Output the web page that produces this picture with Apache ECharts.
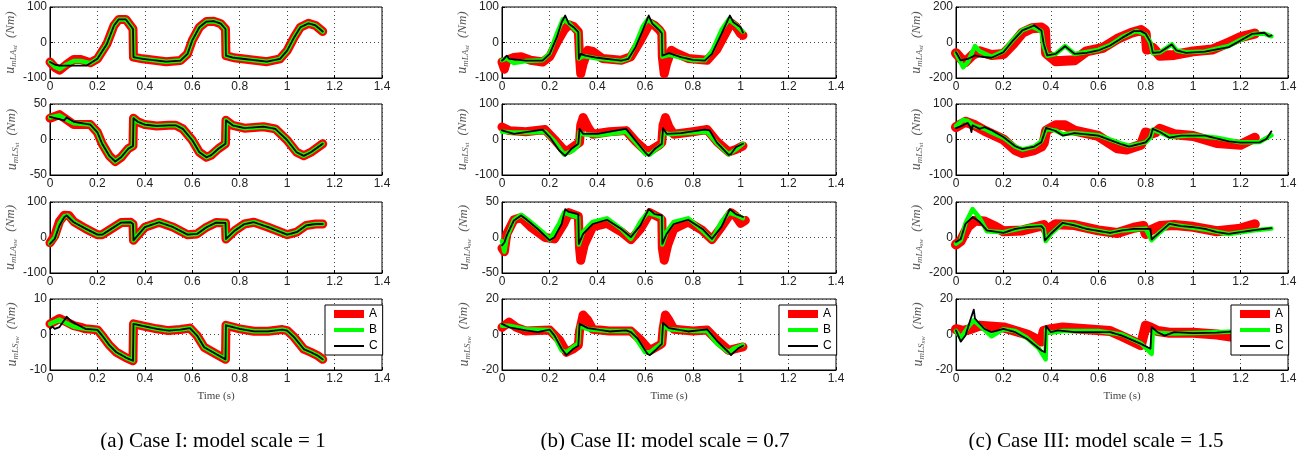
<!DOCTYPE html>
<html>
<head>
<meta charset="utf-8">
<script src="https://cdn.jsdelivr.net/npm/echarts@6/dist/echarts.min.js"></script>
<style>
  html, body { margin: 0; padding: 0; background: #fff; }
  #chart { width: 1304px; height: 450px; }
</style>
</head>
<body>
<div id="chart"></div>
<script>
// ---- Case I (model scale = 1) ----
const caseI_LAst_A = [[0,-55],[0.02,-70],[0.04,-78],[0.07,-62],[0.1,-48],[0.13,-48],[0.17,-57],[0.2,-46],[0.24,-4],[0.27,48],[0.29,65],[0.32,65],[0.35,38],[0.352,-41],[0.39,-46],[0.49,-54],[0.55,-51],[0.58,-32],[0.6,6],[0.63,43],[0.66,59],[0.69,60],[0.72,53],[0.74,38],[0.742,-37],[0.775,-43],[0.915,-54],[0.97,-46],[1.0,-23],[1.03,15],[1.056,43],[1.09,54],[1.12,48],[1.15,31]]
const caseI_LAst_B = [[0,-55],[0.02,-68],[0.04,-75],[0.07,-62],[0.1,-52],[0.13,-52],[0.17,-58],[0.2,-46],[0.24,-4],[0.27,48],[0.29,65],[0.32,65],[0.35,38],[0.352,-41],[0.39,-46],[0.49,-54],[0.55,-51],[0.58,-32],[0.6,6],[0.63,43],[0.66,59],[0.69,60],[0.72,53],[0.74,38],[0.742,-37],[0.775,-43],[0.915,-54],[0.97,-46],[1.0,-23],[1.03,15],[1.056,43],[1.09,54],[1.12,48],[1.15,31]]
const caseI_LAst_C = [[0,-55],[0.02,-62],[0.04,-65],[0.1,-65],[0.155,-65],[0.2,-46],[0.24,-4],[0.27,48],[0.29,65],[0.32,65],[0.35,38],[0.352,-41],[0.39,-46],[0.49,-54],[0.55,-51],[0.58,-32],[0.6,6],[0.63,43],[0.66,59],[0.69,60],[0.72,53],[0.74,38],[0.742,-37],[0.775,-43],[0.915,-54],[0.97,-46],[1.0,-23],[1.03,15],[1.056,43],[1.09,54],[1.12,48],[1.15,31]]

const caseI_LSst_A = [[0,30],[0.04,35],[0.07,28],[0.1,21],[0.17,21],[0.2,10],[0.22,-6],[0.25,-23],[0.275,-31],[0.3,-25],[0.33,-13],[0.35,-9],[0.352,30],[0.37,25],[0.4,21],[0.45,19],[0.5,20],[0.53,20],[0.56,15],[0.6,-1],[0.63,-18],[0.66,-25],[0.68,-22],[0.71,-13],[0.74,-6],[0.742,27],[0.77,20],[0.82,16],[0.9,18],[0.95,15],[1.0,-1],[1.04,-18],[1.07,-23],[1.1,-18],[1.15,-6]]
const caseI_LSst_B = [[0,31],[0.04,34],[0.07,28],[0.1,23],[0.17,21],[0.2,10],[0.22,-6],[0.25,-23],[0.275,-31],[0.3,-25],[0.33,-13],[0.35,-9],[0.352,30],[0.37,25],[0.4,21],[0.45,19],[0.5,20],[0.53,20],[0.56,15],[0.6,-1],[0.63,-18],[0.66,-25],[0.68,-22],[0.71,-13],[0.74,-6],[0.742,27],[0.77,20],[0.82,16],[0.9,18],[0.95,15],[1.0,-1],[1.04,-18],[1.07,-23],[1.1,-18],[1.15,-6]]
const caseI_LSst_C = [[0,32],[0.03,29.5],[0.06,27],[0.07,31],[0.1,25],[0.17,21],[0.2,10],[0.22,-6],[0.25,-23],[0.275,-31],[0.3,-25],[0.33,-13],[0.35,-9],[0.352,30],[0.37,25],[0.4,21],[0.45,19],[0.5,20],[0.53,20],[0.56,15],[0.6,-1],[0.63,-18],[0.66,-25],[0.68,-22],[0.71,-13],[0.74,-6],[0.742,27],[0.77,20],[0.82,16],[0.9,18],[0.95,15],[1.0,-1],[1.04,-18],[1.07,-23],[1.1,-18],[1.15,-6]]

const caseI_LAsw_A = [[0,-15],[0.02,5],[0.04,45],[0.06,63],[0.08,62],[0.1,45],[0.15,25],[0.2,8],[0.22,8],[0.26,25],[0.3,42],[0.34,43],[0.35,38],[0.352,-8],[0.37,6],[0.4,29],[0.46,43],[0.52,29],[0.58,8],[0.62,10],[0.66,29],[0.7,42],[0.74,41],[0.742,-4],[0.78,20],[0.82,38],[0.86,43],[0.92,29],[1.0,8],[1.04,15],[1.08,34],[1.12,38],[1.15,38]]
const caseI_LAsw_B = [[0,-16],[0.02,0],[0.04,40],[0.06,60],[0.075,62],[0.1,44],[0.15,25],[0.2,8],[0.22,8],[0.26,25],[0.3,42],[0.34,43],[0.35,38],[0.352,-8],[0.37,6],[0.4,29],[0.46,43],[0.52,29],[0.58,8],[0.62,10],[0.66,29],[0.7,42],[0.74,41],[0.742,-4],[0.78,20],[0.82,38],[0.86,43],[0.92,29],[1.0,8],[1.04,15],[1.08,34],[1.12,38],[1.15,38]]
const caseI_LAsw_C = [[0,-18],[0.02,-4],[0.04,34],[0.06,57],[0.07,62],[0.1,43],[0.15,25],[0.2,8],[0.22,8],[0.26,25],[0.3,42],[0.34,43],[0.35,38],[0.352,-8],[0.37,6],[0.4,29],[0.46,43],[0.52,29],[0.58,8],[0.62,10],[0.66,29],[0.7,42],[0.74,41],[0.742,-4],[0.78,20],[0.82,38],[0.86,43],[0.92,29],[1.0,8],[1.04,15],[1.08,34],[1.12,38],[1.15,38]]

const caseI_LSsw_A = [[0,3],[0.04,4.5],[0.07,3.5],[0.1,2.5],[0.13,2],[0.15,1.6],[0.2,1.3],[0.22,-0.3],[0.25,-3],[0.28,-5],[0.32,-6.5],[0.35,-7.4],[0.352,3],[0.4,2.3],[0.45,1.6],[0.5,1.1],[0.55,1.4],[0.59,1.8],[0.62,-0.3],[0.65,-3.6],[0.7,-5.5],[0.74,-7],[0.742,2.6],[0.8,1.6],[0.86,0.9],[0.92,0.9],[0.98,1.4],[1.0,1.1],[1.03,-0.8],[1.07,-4.1],[1.1,-5],[1.13,-6],[1.15,-7]]
const caseI_LSsw_B = [[0,3],[0.04,4.2],[0.07,3.2],[0.1,2.2],[0.13,1.8],[0.15,1.6],[0.2,1.3],[0.22,-0.3],[0.25,-3],[0.28,-5],[0.32,-6.5],[0.35,-7.4],[0.352,3],[0.4,2.3],[0.45,1.6],[0.5,1.1],[0.55,1.4],[0.59,1.8],[0.62,-0.3],[0.65,-3.6],[0.7,-5.5],[0.74,-7],[0.742,2.6],[0.8,1.6],[0.86,0.9],[0.92,0.9],[0.98,1.4],[1.0,1.1],[1.03,-0.8],[1.07,-4.1],[1.1,-5],[1.13,-6],[1.15,-7]]
const caseI_LSsw_C = [[0,1.6],[0.01,2.2],[0.02,1.6],[0.04,2.1],[0.06,4],[0.07,5],[0.09,3.7],[0.12,2.6],[0.15,1.6],[0.2,1.3],[0.22,-0.3],[0.25,-3],[0.28,-5],[0.32,-6.5],[0.35,-7.4],[0.352,3],[0.4,2.3],[0.45,1.6],[0.5,1.1],[0.55,1.4],[0.59,1.8],[0.62,-0.3],[0.65,-3.6],[0.7,-5.5],[0.74,-7],[0.742,2.6],[0.8,1.6],[0.86,0.9],[0.92,0.9],[0.98,1.4],[1.0,1.1],[1.03,-0.8],[1.07,-4.1],[1.1,-5],[1.13,-6],[1.15,-7]]

// ---- Case II (model scale = 0.7) ----
const caseII_LAst_A = [[0,-55],[0.01,-75],[0.02,-50],[0.05,-42],[0.08,-40],[0.12,-50],[0.17,-55],[0.2,-40],[0.23,0],[0.26,35],[0.28,50],[0.3,45],[0.32,30],[0.325,-40],[0.33,-88],[0.34,-60],[0.36,-22],[0.38,-25],[0.42,-45],[0.5,-50],[0.54,-40],[0.58,5],[0.62,55],[0.64,48],[0.66,35],[0.67,25],[0.672,-40],[0.68,-88],[0.69,-60],[0.71,-22],[0.73,-30],[0.78,-45],[0.86,-50],[0.9,-20],[0.94,30],[0.96,55],[0.98,45],[1.0,25],[1.01,20]]
const caseII_LAst_B = [[0,-50],[0.02,-45],[0.05,-58],[0.1,-52],[0.17,-50],[0.2,-30],[0.23,25],[0.255,65],[0.28,55],[0.3,40],[0.32,28],[0.322,-45],[0.34,-38],[0.4,-45],[0.5,-52],[0.53,-45],[0.56,-5],[0.59,45],[0.61,65],[0.64,50],[0.66,38],[0.67,30],[0.672,-40],[0.7,-35],[0.8,-50],[0.85,-50],[0.88,-25],[0.92,35],[0.95,65],[0.98,50],[1.01,30]]
const caseII_LAst_C = [[0,-51],[0.01,-45],[0.02,-37],[0.03,-46],[0.1,-51],[0.17,-51],[0.2,-32],[0.23,15],[0.25,57],[0.265,76],[0.28,53],[0.3,43],[0.32,29],[0.322,-46],[0.33,-32],[0.35,-37],[0.4,-43],[0.5,-51],[0.53,-46],[0.56,-13],[0.59,34],[0.615,76],[0.63,53],[0.66,34],[0.67,26],[0.672,-37],[0.7,-30],[0.75,-41],[0.8,-49],[0.85,-51],[0.88,-32],[0.92,24],[0.955,76],[0.97,57],[1.0,43],[1.01,28]]

const caseII_LSst_A = [[0,35],[0.03,25],[0.1,22],[0.18,28],[0.22,0],[0.26,-30],[0.28,-30],[0.31,-15],[0.325,-8],[0.33,40],[0.34,62],[0.36,35],[0.38,15],[0.45,22],[0.52,25],[0.56,-5],[0.6,-30],[0.62,-32],[0.66,-15],[0.67,-8],[0.675,40],[0.685,62],[0.7,35],[0.72,15],[0.8,22],[0.86,28],[0.9,-5],[0.95,-35],[0.98,-28],[1.01,-18]]
const caseII_LSst_B = [[0,22],[0.05,20],[0.12,20],[0.18,22],[0.22,-5],[0.26,-42],[0.3,-30],[0.32,-15],[0.325,22],[0.34,15],[0.4,12],[0.5,20],[0.52,22],[0.56,-8],[0.6,-40],[0.62,-42],[0.65,-25],[0.67,-15],[0.675,20],[0.7,15],[0.8,20],[0.86,22],[0.9,-10],[0.95,-42],[0.98,-28],[1.01,-12]]
const caseII_LSst_C = [[0,26],[0.05,16],[0.1,21],[0.17,28],[0.2,7],[0.24,-31],[0.265,-46],[0.29,-27],[0.32,-12],[0.325,30],[0.34,16],[0.4,16],[0.5,28],[0.52,30],[0.56,-3],[0.6,-36],[0.615,-46],[0.64,-27],[0.67,-12],[0.675,32],[0.69,16],[0.75,18],[0.85,28],[0.87,26],[0.9,-8],[0.95,-43],[0.96,-41],[0.98,-22],[1.01,-12]]

const caseII_LAsw_A = [[0,-15],[0.01,-20],[0.02,5],[0.05,25],[0.08,28],[0.12,15],[0.18,0],[0.22,-2],[0.26,20],[0.28,35],[0.32,30],[0.325,-15],[0.33,-32],[0.345,-10],[0.38,15],[0.44,20],[0.5,8],[0.54,-3],[0.58,12],[0.62,35],[0.66,28],[0.67,25],[0.672,-15],[0.68,-32],[0.695,-10],[0.72,12],[0.78,22],[0.84,10],[0.88,-3],[0.92,15],[0.96,35],[0.98,30],[1.0,20],[1.02,24]]
const caseII_LAsw_B = [[0,-5],[0.01,-20],[0.02,0],[0.05,25],[0.08,32],[0.12,22],[0.18,5],[0.2,-3],[0.24,20],[0.26,35],[0.3,30],[0.32,28],[0.322,-10],[0.34,8],[0.38,22],[0.44,27],[0.5,12],[0.54,-2],[0.58,22],[0.61,35],[0.64,32],[0.67,28],[0.672,-10],[0.69,8],[0.72,22],[0.78,27],[0.84,10],[0.88,-3],[0.92,22],[0.95,35],[0.98,32],[1.01,27]]
const caseII_LAsw_C = [[0,-11],[0.01,-7],[0.02,3],[0.05,24],[0.08,31],[0.1,26],[0.15,12],[0.2,-4],[0.22,0.5],[0.25,19],[0.265,40],[0.28,36],[0.32,33],[0.322,-9],[0.34,5],[0.38,19],[0.44,25],[0.5,12],[0.54,0.5],[0.58,17],[0.615,40],[0.64,33],[0.67,31],[0.672,-9],[0.69,5],[0.72,19],[0.78,25],[0.84,12],[0.88,-2],[0.92,15],[0.955,40],[0.98,33],[1.01,29]]

const caseII_LSsw_A = [[0,4],[0.03,7],[0.06,4],[0.1,2],[0.2,2.5],[0.24,-3],[0.27,-10],[0.3,-8],[0.32,-6],[0.325,2],[0.34,11],[0.36,8],[0.38,3],[0.45,2],[0.54,2],[0.58,-3],[0.62,-9],[0.66,-6],[0.67,-5],[0.675,3],[0.685,11],[0.7,8],[0.72,3],[0.8,2],[0.86,2.5],[0.9,-3],[0.95,-9],[0.98,-8],[1.01,-7]]
const caseII_LSsw_B = [[0,5],[0.03,5],[0.1,3],[0.2,2.5],[0.22,-1],[0.25,-9],[0.27,-10],[0.3,-7],[0.32,-5],[0.325,5],[0.36,3],[0.45,2],[0.54,2],[0.57,-4],[0.6,-10],[0.62,-10],[0.65,-7],[0.67,-5],[0.675,5],[0.7,3],[0.8,2],[0.86,2],[0.9,-5],[0.95,-10],[0.97,-8],[1.01,-6]]
const caseII_LSsw_C = [[0,6],[0.03,4],[0.1,2.3],[0.15,1.3],[0.2,2.7],[0.22,-0.6],[0.25,-8],[0.27,-11.6],[0.3,-8],[0.32,-6.3],[0.325,6],[0.36,3.6],[0.45,1.7],[0.52,2.3],[0.54,1.3],[0.57,-2.5],[0.61,-11],[0.62,-11.6],[0.65,-8],[0.67,-5.3],[0.675,6.5],[0.7,3.6],[0.78,1.7],[0.86,2.9],[0.9,-3.4],[0.95,-10],[0.96,-11.6],[0.99,-7.8],[1.01,-6.3]]

// ---- Case III (model scale = 1.5) ----
const caseIII_LAst_A = [[0,-60],[0.02,-90],[0.04,-110],[0.07,-70],[0.1,-50],[0.15,-70],[0.2,-65],[0.24,-10],[0.28,55],[0.32,80],[0.36,85],[0.375,70],[0.38,-60],[0.42,-105],[0.5,-100],[0.55,-50],[0.62,-30],[0.68,20],[0.74,55],[0.78,70],[0.8,50],[0.805,-40],[0.83,-30],[0.86,-75],[0.92,-70],[1.0,-50],[1.08,-40],[1.15,0],[1.2,30],[1.26,50]]
const caseIII_LAst_B = [[0,-60],[0.03,-140],[0.05,-110],[0.08,-20],[0.1,-50],[0.15,-80],[0.2,-50],[0.24,15],[0.28,70],[0.32,90],[0.36,65],[0.37,-20],[0.385,-75],[0.42,-65],[0.46,-20],[0.5,-65],[0.6,-42],[0.65,-15],[0.7,30],[0.76,65],[0.8,45],[0.82,0],[0.83,-60],[0.86,-55],[0.91,-10],[0.93,-45],[0.97,-55],[1.05,-50],[1.15,-20],[1.2,15],[1.26,50],[1.3,50],[1.33,35]]
const caseIII_LAst_C = [[0,-55],[0.02,-101],[0.05,-92],[0.08,-73],[0.1,-79],[0.15,-86],[0.2,-55],[0.24,11],[0.28,68],[0.33,96],[0.36,68],[0.37,-8],[0.385,-73],[0.42,-64],[0.46,-21],[0.5,-64],[0.55,-58],[0.6,-45],[0.65,-17],[0.7,26],[0.75,64],[0.78,64],[0.8,49],[0.82,2],[0.83,-58],[0.86,-55],[0.91,-11],[0.93,-45],[0.97,-58],[1.05,-51],[1.15,-26],[1.2,11],[1.25,49],[1.3,55],[1.32,34],[1.33,40]]

const caseIII_LSst_A = [[0,35],[0.04,50],[0.08,40],[0.12,25],[0.2,0],[0.25,-30],[0.28,-38],[0.33,-30],[0.36,-20],[0.37,-10],[0.38,25],[0.42,40],[0.46,40],[0.5,25],[0.6,10],[0.68,-25],[0.72,-28],[0.78,-15],[0.8,20],[0.82,15],[0.84,20],[0.86,30],[0.92,15],[1.0,10],[1.1,-10],[1.2,-15],[1.26,5]]
const caseIII_LSst_B = [[0,38],[0.03,55],[0.05,52],[0.08,38],[0.12,30],[0.15,20],[0.2,5],[0.25,-20],[0.28,-28],[0.33,-20],[0.36,-5],[0.38,30],[0.42,25],[0.45,15],[0.5,18],[0.6,12],[0.7,-12],[0.73,-18],[0.8,-8],[0.82,5],[0.83,28],[0.86,20],[0.9,8],[1.0,12],[1.1,5],[1.2,-8],[1.28,-7],[1.33,12]]
const caseIII_LSst_C = [[0,32],[0.03,40],[0.05,47],[0.06,35],[0.065,21],[0.07,40],[0.1,30],[0.12,35],[0.15,26],[0.2,7],[0.25,-19],[0.28,-27],[0.33,-20],[0.36,-8],[0.38,33],[0.42,24],[0.45,11],[0.5,18],[0.6,11],[0.7,-14],[0.73,-20],[0.8,-8],[0.82,7],[0.83,30],[0.86,21],[0.9,5],[0.95,11],[1.05,11],[1.15,-5],[1.2,-9],[1.28,-8],[1.31,2],[1.33,23]]

const caseIII_LAsw_A = [[0,-40],[0.02,-20],[0.05,60],[0.08,95],[0.12,90],[0.16,65],[0.2,35],[0.28,40],[0.34,60],[0.37,70],[0.38,40],[0.42,75],[0.5,70],[0.6,40],[0.68,25],[0.75,55],[0.79,65],[0.8,20],[0.82,40],[0.86,65],[0.92,70],[1.0,60],[1.1,35],[1.2,50],[1.26,75]]
const caseIII_LAsw_B = [[0,-35],[0.02,-15],[0.04,80],[0.07,160],[0.1,110],[0.13,35],[0.2,30],[0.25,45],[0.3,60],[0.36,65],[0.37,50],[0.378,-20],[0.4,20],[0.45,80],[0.5,70],[0.55,50],[0.65,25],[0.7,40],[0.8,50],[0.825,-15],[0.86,30],[0.9,75],[0.95,65],[1.05,45],[1.15,20],[1.25,40],[1.33,50]]
const caseIII_LAsw_C = [[0,-26],[0.02,-8],[0.04,77],[0.07,115],[0.1,87],[0.13,40],[0.2,26],[0.25,49],[0.3,58],[0.36,64],[0.37,49],[0.375,-17],[0.4,21],[0.45,83],[0.5,68],[0.55,49],[0.65,26],[0.7,40],[0.75,49],[0.82,49],[0.825,-11],[0.86,30],[0.9,77],[0.95,64],[1.0,58],[1.05,49],[1.1,30],[1.15,21],[1.25,40],[1.3,49],[1.33,53]]

const caseIII_LSsw_A = [[0,3],[0.03,2],[0.06,3],[0.1,5],[0.2,4],[0.3,0],[0.36,-4],[0.37,2],[0.4,3],[0.45,4],[0.55,3],[0.65,2],[0.7,-1],[0.78,-6],[0.8,5],[0.82,4],[0.85,2],[0.9,1],[1.0,1],[1.1,0],[1.2,-2],[1.26,-1]]
const caseIII_LSsw_B = [[0,2],[0.02,-2],[0.05,4],[0.075,8],[0.1,5],[0.15,-1],[0.2,3],[0.25,2],[0.3,-2],[0.35,-8],[0.378,-14],[0.38,3],[0.4,1],[0.45,2],[0.6,2],[0.7,0],[0.78,-5],[0.825,-11],[0.83,2],[0.85,1],[0.9,0.5],[1.0,0.8],[1.15,1.5],[1.25,1.5],[1.33,1.5]]
const caseIII_LSsw_C = [[0,2.3],[0.02,-4],[0.04,-0.6],[0.06,8],[0.075,14],[0.08,9],[0.1,6],[0.12,3.2],[0.15,1.3],[0.2,3.2],[0.25,1.3],[0.3,-2.5],[0.36,-9],[0.375,-10],[0.38,4.8],[0.4,1.3],[0.43,2.3],[0.5,1.3],[0.65,1.3],[0.7,-0.6],[0.78,-5.3],[0.82,-8],[0.825,4.2],[0.85,1.3],[0.88,-0.6],[0.92,1.3],[1.0,0.8],[1.1,1],[1.2,2],[1.3,1.5],[1.33,1.8]]

// axis ranges (symmetric, ticks at -max, 0, max)
const yMaxI = [100, 50, 100, 10]
const yMaxII = [100, 100, 50, 20]
const yMaxIII = [200, 100, 200, 20]
const rowLabels = [['mLA', 'st'], ['mLS', 'st'], ['mLA', 'sw'], ['mLS', 'sw']]
const seriesNames = ['A', 'B', 'C']
const captions = ['(a) Case I: model scale = 1', '(b) Case II: model scale = 0.7', '(c) Case III: model scale = 1.5']

const caseData = [
  [[caseI_LAst_A, caseI_LAst_B, caseI_LAst_C], [caseI_LSst_A, caseI_LSst_B, caseI_LSst_C],
   [caseI_LAsw_A, caseI_LAsw_B, caseI_LAsw_C], [caseI_LSsw_A, caseI_LSsw_B, caseI_LSsw_C]],
  [[caseII_LAst_A, caseII_LAst_B, caseII_LAst_C], [caseII_LSst_A, caseII_LSst_B, caseII_LSst_C],
   [caseII_LAsw_A, caseII_LAsw_B, caseII_LAsw_C], [caseII_LSsw_A, caseII_LSsw_B, caseII_LSsw_C]],
  [[caseIII_LAst_A, caseIII_LAst_B, caseIII_LAst_C], [caseIII_LSst_A, caseIII_LSst_B, caseIII_LSst_C],
   [caseIII_LAsw_A, caseIII_LAsw_B, caseIII_LAsw_C], [caseIII_LSsw_A, caseIII_LSsw_B, caseIII_LSsw_C]]
]
const yMax = [yMaxI, yMaxII, yMaxIII]

// layout (px)
const colLeft = [50, 502, 956]
const colWidth = [332, 334, 332]
const captionCenter = [208, 660, 1091]
const rowTop = [7, 104, 202, 299]
const rowHeight = 71
const lineColors = ['#ff0000', '#00ff00', '#000000']
const lineWidths = [[9, 4.5, 1.8], [9, 4.5, 1.8], [10, 4.5, 1.8]]

const sans = 'Liberation Sans, Arial, sans-serif'
const serif = 'Liberation Serif, Times New Roman, serif'
const labelGrey = '#5a5a5a'

const grids = [], xAxes = [], yAxes = [], series = [], legends = [], titles = []

for (let c = 0; c < 3; c++) {
  for (let r = 0; r < 4; r++) {
    const idx = grids.length
    grids.push({
      left: colLeft[c], top: rowTop[r], width: colWidth[c], height: rowHeight,
      show: true, borderColor: '#000', borderWidth: 1, backgroundColor: '#fff'
    })
    xAxes.push({
      type: 'value', gridIndex: idx, min: 0, max: 1.4, interval: 0.2,
      axisLine: {show: true, onZero: false, lineStyle: {color: '#000', width: 1}},
      axisTick: {show: true, inside: true, length: 3, lineStyle: {color: '#000'}},
      axisLabel: {fontFamily: sans, fontSize: 12, color: '#222', margin: 3},
      splitLine: {show: true, lineStyle: {color: '#444', type: [1, 3], width: 1}},
      name: r === 3 ? 'Time (s)' : '',
      nameLocation: 'middle', nameGap: 21,
      nameTextStyle: {fontFamily: serif, fontSize: 11, color: '#444'}
    })
    const m = yMax[c][r]
    yAxes.push({
      type: 'value', gridIndex: idx, min: -m, max: m, interval: m,
      axisLine: {show: true, onZero: false, lineStyle: {color: '#000', width: 1}},
      axisTick: {show: true, inside: true, length: 3, lineStyle: {color: '#000'}},
      axisLabel: {fontFamily: sans, fontSize: 12, color: '#222', margin: 3},
      splitLine: {show: true, lineStyle: {color: '#444', type: [1, 3], width: 1}},
      name: '{u|u}{s|' + rowLabels[r][0] + '}{ss|' + rowLabels[r][1] + '}{n|(Nm)}',
      nameLocation: 'middle', nameRotate: 90, nameGap: 29,
      nameTextStyle: {
        color: labelGrey,
        rich: {
          u: {fontFamily: serif, fontStyle: 'italic', fontSize: 14, color: labelGrey},
          s: {fontFamily: serif, fontStyle: 'italic', fontSize: 9, color: labelGrey, padding: [7, 0, 0, 0]},
          ss: {fontFamily: serif, fontStyle: 'italic', fontSize: 7, color: labelGrey, padding: [11, 0, 0, 0]},
          n: {fontFamily: serif, fontStyle: 'italic', fontSize: 13, color: labelGrey, padding: [0, 0, 0, 7]}
        }
      }
    })
    for (let s = 0; s < 3; s++) {
      series.push({
        name: seriesNames[s], type: 'line', xAxisIndex: idx, yAxisIndex: idx,
        data: caseData[c][r][s], symbol: 'none', animation: false,
        lineStyle: {color: lineColors[s], width: lineWidths[c][s], join: 'round', cap: 'round'},
        itemStyle: {color: lineColors[s]}
      })
    }
  }
  legends.push({
    orient: 'vertical',
    left: colLeft[c] + colWidth[c] - 57, top: 305,
    itemWidth: 30, itemHeight: 10, itemGap: 4,
    padding: [3, 5, 3, 5],
    borderColor: '#000', borderWidth: 1, backgroundColor: '#fff',
    textStyle: {fontFamily: sans, fontSize: 12, color: '#000'},
    selectedMode: false,
    itemStyle: {opacity: 0},
    data: seriesNames.map((n, s) => ({
      name: n,
      itemStyle: {opacity: 0},
      lineStyle: {width: [8, 4, 2][s], color: lineColors[s], cap: 'butt'}
    }))
  })
  titles.push({
    text: captions[c],
    left: captionCenter[c], top: 426, textAlign: 'center',
    textStyle: {fontFamily: serif, fontSize: 21, fontWeight: 'normal', color: '#000'}
  })
}

const chart = echarts.init(document.getElementById('chart'))
chart.setOption({
  animation: false,
  backgroundColor: '#fff',
  title: titles,
  grid: grids,
  xAxis: xAxes,
  yAxis: yAxes,
  legend: legends,
  series: series
})
</script>
</body>
</html>
